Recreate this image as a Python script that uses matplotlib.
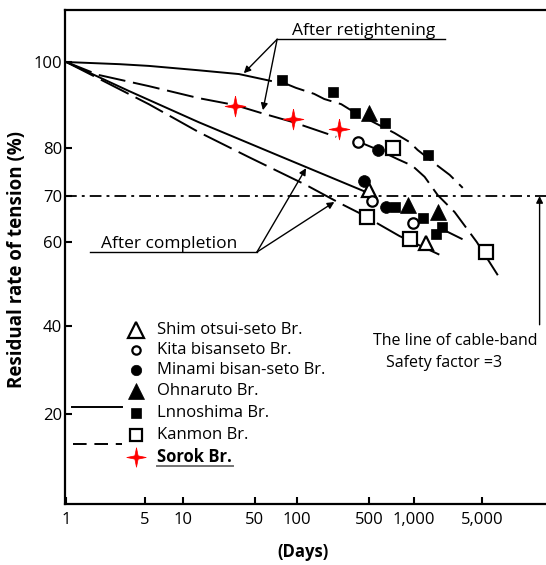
import matplotlib
matplotlib.use('Agg')
import matplotlib.pyplot as plt
import numpy as np

plt.rcParams['font.family'] = ['Open Sans', 'DejaVu Sans']
plt.rcParams['font.size'] = 12

# axis ticks (the original axes are hand scaled, not true log / linear)
x_ticks = [1, 5, 10, 50, 100, 500, 1000, 5000]
x_ticklabels = ['1', '5', '10', '50', '100', '500', '1,000', '5,000']
y_ticks = [20, 40, 60, 70, 80, 100]

# curves: days / residual rate of tension (%)
retight_solid_d = [1, 3, 5.4, 14, 35, 65]
retight_solid_v = [100, 99.5, 99.1, 98.1, 97.2, 95.6]
retight_dash_d = [81, 98, 146, 183, 267, 342, 500, 741, 938, 1100, 1766, 2345, 3190]
retight_dash_v = [95.1, 94.0, 92.6, 91.4, 90.2, 88.6, 86.5, 83.5, 81.4, 79.6, 76.3, 74.4, 71.7]
sorok_line_d = [1, 1.94, 5.4, 14.3, 32, 56, 94, 239]
sorok_line_v = [100, 97.0, 94.4, 91.6, 90.0, 88.1, 86.0, 82.6]
compl_solid_d = [1, 3.6, 14.3, 74, 468]
compl_solid_v = [100, 93.3, 86.0, 78.4, 70.8]
compl_dash_d = [1, 5.4, 14.3, 43.7, 122, 256, 400, 802, 2086]
compl_dash_v = [100, 90.2, 83.7, 78.1, 72.3, 68.5, 66.3, 61.3, 56.4]
kanmon_dash_d = [418, 576, 777, 982, 1298, 1766, 2636, 4440, 6900]
kanmon_dash_v = [81.2, 79.6, 77.7, 76.3, 74.0, 70.2, 66.5, 60.0, 52.1]
tail_d = [2237, 3110]
tail_v = [62.2, 60.7]

# measured points per bridge
shim_d = [500, 1327]
shim_v = [71.3, 59.8]
kita_d = [391, 525, 984]
kita_v = [81.4, 68.9, 64.1]
minami_d = [576, 447, 653]
minami_v = [79.6, 73.1, 67.6]
ohnaruto_d = [500, 910, 1766]
ohnaruto_v = [88.1, 68.0, 66.5]
innoshima_d = [78, 224, 366, 634, 1393, 753, 1237, 1941, 1683]
innoshima_v = [95.8, 93.0, 88.1, 85.8, 78.5, 67.6, 65.2, 63.3, 61.7]
kanmon_d = [730, 478, 940, 5420]
kanmon_v = [80.0, 65.4, 60.7, 57.6]
sorok_d = [32, 94, 256]
sorok_v = [89.8, 86.7, 84.4]

names = ['Shim otsui-seto Br.', 'Kita bisanseto Br.', 'Minami bisan-seto Br.',
         'Ohnaruto Br.', 'Lnnoshima Br.', 'Kanmon Br.', 'Sorok Br.']

# piecewise scales matching the drawn tick spacing (pixels from axes origin)
LX = [-1, 0, np.log10(5), 1, np.log10(50), 2, np.log10(500), 3, np.log10(5000), 5]
PX = [-43.6, 3, 81, 119, 191, 233, 305, 349, 417, 565.3]
YV = [-20, 20, 40, 60, 70, 80, 100, 140]
YP = [-86, 90, 178, 262, 308, 356, 442, 614]

def xf(v):
    return np.interp(np.log10(np.clip(v, 1e-6, None)), LX, PX)
def xi(p):
    return 10 ** np.interp(p, PX, LX)
def yf(v):
    return np.interp(v, YV, YP)
def yi(p):
    return np.interp(p, YP, YV)

star = [(0, 1), (0.17, 0.17), (1, 0), (0.17, -0.17), (0, -1), (-0.17, -0.17), (-1, 0), (-0.17, 0.17), (0, 1)]

fig = plt.figure(figsize=(5.46, 5.65), dpi=100)
ax = fig.add_axes([65/546, 61/565, 481/546, 494/565])
ax.set_xscale('function', functions=(xf, xi))
ax.set_yscale('function', functions=(yf, yi))

lw = 1.4
dash = (0, (11, 4))
ax.plot(retight_solid_d, retight_solid_v, 'k-', lw=lw)
ax.plot(retight_dash_d, retight_dash_v, 'k', lw=lw, ls=dash)
ax.plot(sorok_line_d, sorok_line_v, 'k', lw=lw, ls=(0, (14, 4)))
ax.plot(compl_solid_d, compl_solid_v, 'k-', lw=lw)
ax.plot(compl_dash_d, compl_dash_v, 'k', lw=lw, ls=(0, (16, 4)))
ax.plot(kanmon_dash_d, kanmon_dash_v, 'k', lw=lw, ls=dash)
ax.plot(tail_d, tail_v, 'k-', lw=lw)
ax.axhline(70, color='k', lw=1.3, ls=(0, (6.5, 2.8, 1.6, 2.8)))

# marker styles: (marker, facecolor, size in plot, size in legend)
styles = [('^', 'white', 10.5, 11), ('o', 'white', 7.5, 6), ('o', 'black', 8.5, 7.5),
          ('^', 'black', 11, 12), ('s', 'black', 7.5, 6.5), ('s', 'white', 9.5, 8), (star, 'red', 15, 14)]
series = [(shim_d, shim_v), (kita_d, kita_v), (minami_d, minami_v), (ohnaruto_d, ohnaruto_v),
          (innoshima_d, innoshima_v), (kanmon_d, kanmon_v), (sorok_d, sorok_v)]
for (m, fc, ms, _), (d, v) in zip(styles, series):
    ec = 'red' if fc == 'red' else 'black'
    ax.plot(d, v, ls='none', marker=m, ms=ms, mfc=fc, mec=ec, mew=1.6 if fc == 'white' else 0.5, zorder=5)

# legend drawn by hand
rows = [0.352, 0.312, 0.271, 0.228, 0.184, 0.140, 0.095]
for (m, fc, _, ms), name, yr in zip(styles, names, rows):
    ec = 'red' if fc == 'red' else 'black'
    ax.plot([0.1476], [yr], transform=ax.transAxes, ls='none', marker=m, ms=ms, mfc=fc, mec=ec,
            mew=1.6 if fc == 'white' else 0.5, clip_on=False)
    bold = name.startswith('Sorok')
    ax.text(0.191, yr, name, transform=ax.transAxes, va='center', ha='left',
            fontweight='bold' if bold else 'normal')
ax.plot([0.191, 0.349], [0.077, 0.077], transform=ax.transAxes, color='0.45', lw=1.4)
ax.plot([0.0146, 0.1185], [0.196, 0.196], transform=ax.transAxes, color='k', lw=lw)
ax.plot([0.0166, 0.1185], [0.121, 0.121], transform=ax.transAxes, color='k', lw=lw, ls=(0, (7, 4)))

# annotations
arw = dict(arrowstyle='-|>', color='k', lw=1, mutation_scale=10, shrinkA=0, shrinkB=0)
ax.text(92, 106.3, 'After retightening', ha='left', va='baseline', fontsize=12.5)
ax.plot([72, 2086], [105.3, 105.3], 'k-', lw=1)
ax.annotate('', xy=(39, 97.4), xytext=(72, 105.3), arrowprops=arw)
ax.annotate('', xy=(57, 88.8), xytext=(72, 105.3), arrowprops=arw)

ax.text(2.06, 58.6, 'After completion', ha='left', va='baseline', fontsize=12.5)
ax.plot([1.64, 51.6], [57.6, 57.6], 'k-', lw=1)
ax.annotate('', xy=(122, 75.8), xytext=(51.6, 57.6), arrowprops=arw)
ax.annotate('', xy=(229, 68.7), xytext=(51.6, 57.6), arrowprops=arw)

ax.annotate('', xy=(16000, 70), xytext=(16000, 40.3), arrowprops=arw)
ax.text(2700, 36.6, 'The line of cable-band', ha='center', va='center', fontsize=11.5)
ax.text(2030, 31.6, 'Safety factor =3', ha='center', va='center', fontsize=11.5)

ax.set_xlim(0.94, 18200)
ax.set_ylim(-0.45, 112.1)
ax.set_xticks(x_ticks)
ax.set_xticklabels(x_ticklabels)
ax.set_yticks(y_ticks)
ax.set_yticklabels([str(t) for t in y_ticks])
ax.minorticks_off()
ax.tick_params(direction='in', length=5, width=1.5, pad=6)
ax.tick_params(axis='y', pad=2)
ax.spines['right'].set_visible(False)
for s in ['left', 'bottom', 'top']:
    ax.spines[s].set_linewidth(1.6)

fig.text(17/546, 1 - 260/565, 'Residual rate of tension (%)', rotation=90,
         ha='center', va='center', fontweight='bold', fontsize=13.5)
fig.text(303/546, 1 - 552/565, '(Days)', ha='center', va='center', fontweight='bold')

fig.savefig('out.png', dpi=100)
